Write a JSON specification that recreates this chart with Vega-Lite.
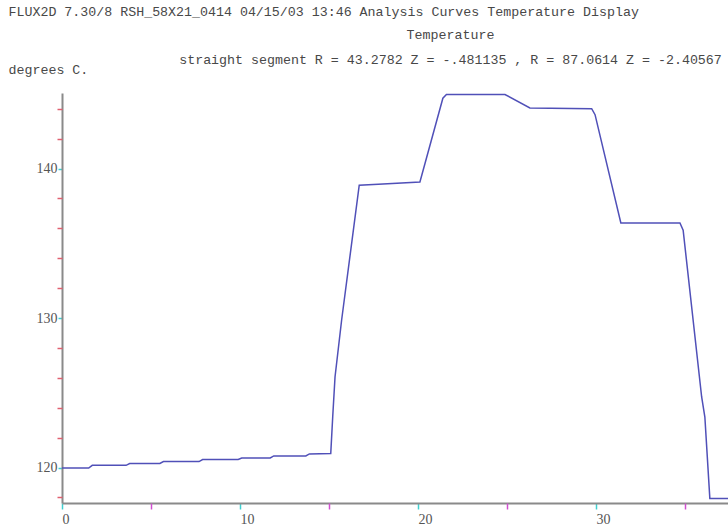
{
  "$schema": "https://vega.github.io/schema/vega-lite/v6.json",
  "width": 666,
  "height": 410,
  "autosize": {"type": "none"},
  "padding": {"left": 62, "top": 93, "right": 0, "bottom": 26},
  "background": "white",
  "config": {"view": {"stroke": null}, "axis": {"grid": false}},
  "data": {
    "values": [
      {"r": 0, "t": 119.97},
      {"r": 1.5, "t": 119.97},
      {"r": 1.7, "t": 120.15},
      {"r": 3.6, "t": 120.15},
      {"r": 3.8, "t": 120.27},
      {"r": 5.5, "t": 120.27},
      {"r": 5.7, "t": 120.4},
      {"r": 7.7, "t": 120.4},
      {"r": 7.9, "t": 120.54},
      {"r": 9.9, "t": 120.54},
      {"r": 10.1, "t": 120.64},
      {"r": 11.7, "t": 120.64},
      {"r": 11.9, "t": 120.78},
      {"r": 13.7, "t": 120.78},
      {"r": 13.9, "t": 120.91},
      {"r": 15.1, "t": 120.94},
      {"r": 15.21, "t": 123.38},
      {"r": 15.34, "t": 126.06},
      {"r": 15.71, "t": 129.85},
      {"r": 16.7, "t": 138.88},
      {"r": 17.77, "t": 138.95},
      {"r": 20.11, "t": 139.1},
      {"r": 21.4, "t": 144.7},
      {"r": 21.6, "t": 144.95},
      {"r": 24.89, "t": 144.95},
      {"r": 26.29, "t": 144.05},
      {"r": 29.76, "t": 144.0},
      {"r": 29.95, "t": 143.6},
      {"r": 31.4, "t": 136.36},
      {"r": 34.72, "t": 136.36},
      {"r": 34.9, "t": 135.87},
      {"r": 35.94, "t": 124.72},
      {"r": 36.12, "t": 123.38},
      {"r": 36.4, "t": 117.93},
      {"r": 37.42, "t": 117.93}
    ]
  },
  "layer": [
    {
      "mark": {"type": "line", "color": "#5050b8", "strokeWidth": 1.5, "clip": true},
      "encoding": {
        "x": {
          "field": "r", "type": "quantitative",
          "scale": {"domain": [0, 37.42], "nice": false, "zero": false},
          "axis": {
            "orient": "bottom", "values": [0, 10, 20, 30], "format": "d",
            "domainColor": "#8a8a8a", "domainWidth": 2,
            "tickColor": "#40d0d0", "tickSize": 6, "tickWidth": 1.5,
            "labelAlign": "left", "labelFont": "Liberation Serif", "labelFontSize": 14,
            "labelColor": "#555555", "labelPadding": 3,
            "title": ["Temperature", "straight segment R = 43.2782 Z = -.481135 , R = 87.0614 Z = -2.40567"],
            "titleX": 388, "titleY": -465, "titleAlign": "center", "titleBaseline": "alphabetic",
            "titleFont": "Liberation Mono", "titleFontSize": 13.3, "titleFontWeight": "normal",
            "titleColor": "#484848", "titleLineHeight": 25
          }
        },
        "y": {
          "field": "t", "type": "quantitative",
          "scale": {"domain": [117.63, 145.05], "nice": false, "zero": false},
          "axis": {
            "orient": "left", "values": [120, 130, 140], "format": "d",
            "domainColor": "#8a8a8a", "domainWidth": 2,
            "tickColor": "#40d0d0", "tickSize": 4, "tickWidth": 1.5,
            "labelFont": "Liberation Serif", "labelFontSize": 14,
            "labelColor": "#555555", "labelPadding": 1,
            "title": "degrees C.", "titleX": -54, "titleY": -20, "titleAngle": 0,
            "titleAlign": "left", "titleBaseline": "alphabetic",
            "titleFont": "Liberation Mono", "titleFontSize": 13.3, "titleFontWeight": "normal",
            "titleColor": "#484848"
          }
        }
      }
    },
    {
      "mark": {"type": "line", "strokeOpacity": 0},
      "encoding": {
        "x": {
          "field": "r", "type": "quantitative",
          "scale": {"domain": [0, 37.42], "nice": false, "zero": false},
          "axis": {
            "orient": "bottom", "values": [5, 15, 25, 35], "labels": false, "domain": false,
            "tickColor": "#d050d0", "tickSize": 6, "tickWidth": 1.5, "title": null
          }
        },
        "y": {
          "field": "t", "type": "quantitative",
          "scale": {"domain": [117.63, 145.05], "nice": false, "zero": false},
          "axis": {
            "orient": "left", "values": [118, 122, 124, 126, 128, 132, 134, 136, 138, 142, 144],
            "labels": false, "domain": false,
            "tickColor": "#e06070", "tickSize": 5, "tickWidth": 1.5,
            "title": "FLUX2D 7.30/8 RSH_58X21_0414 04/15/03 13:46 Analysis Curves Temperature Display",
            "titleX": -54, "titleY": -78, "titleAngle": 0, "titleAlign": "left", "titleBaseline": "alphabetic",
            "titleFont": "Liberation Mono", "titleFontSize": 13.3, "titleFontWeight": "normal",
            "titleColor": "#484848"
          }
        }
      }
    }
  ],
  "resolve": {"axis": {"x": "independent", "y": "independent"}}
}
